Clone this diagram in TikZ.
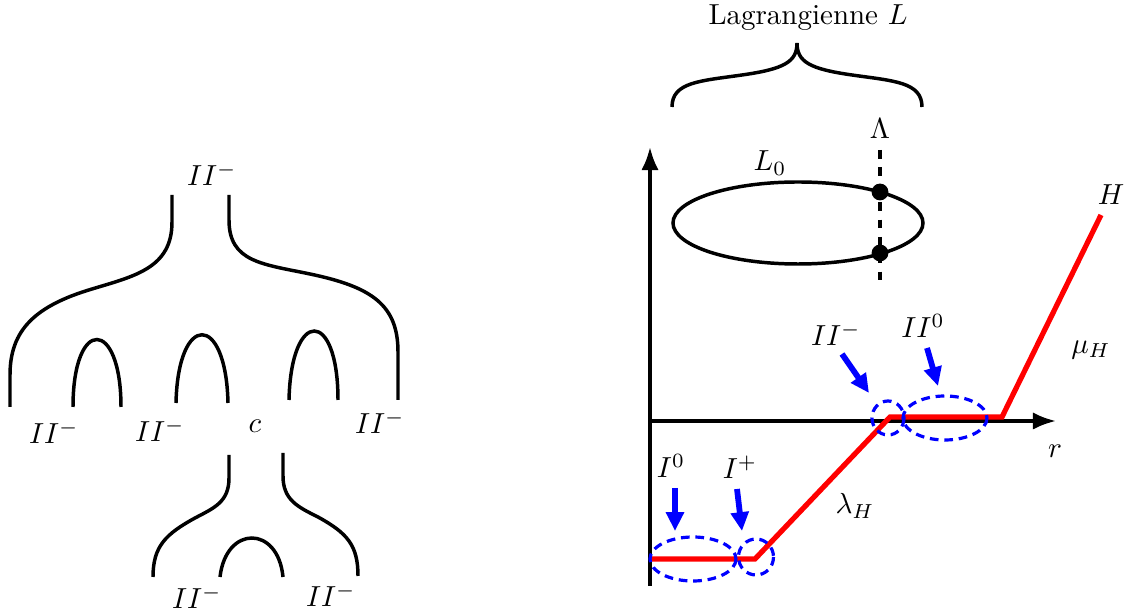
\documentclass[tikz,border=0pt]{standalone}
\usetikzlibrary{arrows.meta}
\begin{document}
\begin{tikzpicture}[x=0.345pt,y=-0.345pt,
  curve/.style={line width=1.2pt,black},
  axis/.style={line width=1.2pt,-{Latex[length=8pt,width=6pt]}},
  redline/.style={line width=1.8pt,red,line join=miter},
  zone/.style={blue,line width=1.1pt,dash pattern=on 3pt off 2pt},
  bluearrow/.style={blue,line width=2pt,-{Triangle[length=6.5pt,width=6pt]}},
  lab/.style={inner sep=1pt}]
\useasboundingbox (0,0) rectangle (1131,615);

% ---------- left diagram ----------
\node[lab] (top) at (212,174) {$II^-$};
\draw[curve] (172,195) -- (172,222) .. controls (172,268) and (135,276) .. (92,289)
  .. controls (35,306) and (10,330) .. (10,375) -- (10,407);
\draw[curve] (229,195) -- (229,220) .. controls (229,262) and (262,264) .. (310,274)
  .. controls (372,287) and (398,305) .. (398,352) -- (398,400);
\draw[curve] (73,407) .. controls (73,316) and (121,318) .. (121,407);
\draw[curve] (176,403) .. controls (178,312) and (226,312) .. (228,403);
\draw[curve] (289,400) .. controls (291,308) and (338,308) .. (338,400);
\node[lab] (l1) at (54,432) {$II^-$};
\node[lab] (l2) at (160,430) {$II^-$};
\node[lab] (c) at (255,426) {$c$};
\node[lab] (l3) at (380,422) {$II^-$};

\draw[curve] (229,455) -- (229,478) .. controls (229,502) and (214,508) .. (195,518)
  .. controls (166,534) and (153,546) .. (153,577);
\draw[curve] (283,453) -- (283,476) .. controls (283,500) and (298,507) .. (318,517)
  .. controls (347,533) and (358,545) .. (358,576);
\draw[curve] (220,577) .. controls (226,525) and (278,525) .. (283,577);
\node[lab] (b1) at (197,597) {$II^-$};
\node[lab] (b2) at (331,595) {$II^-$};

% ---------- right diagram ----------
\coordinate (O) at (650,421);
\coordinate (ybot) at (650,586);
\coordinate (ytop) at (650,147);
\coordinate (xend) at (1056,421);
\draw[line width=1.2pt] (O) -- (ybot);
\draw[axis] (O) -- (ytop);
\draw[axis] (O) -- (xend);
\node[lab] (r) at (1055,451) {$r$};

\coordinate (p0) at (650,559);
\coordinate (p1) at (755,559);
\coordinate (p2) at (890,417);
\coordinate (p3) at (1002,417);
\coordinate (p4) at (1101,215);
\draw[redline] (p0) -- (p1) -- (p2) -- (p3) -- (p4);
\node[lab] (H) at (1111,195) {$H$};
\node[lab] (mu) at (1091,350) {$\mu_H$};
\node[lab] (lam) at (855,506) {$\lambda_H$};

\draw[zone] (693,559) ellipse [x radius=43, y radius=22];
\draw[zone] (756,557) ellipse [x radius=17.5, y radius=18];
\draw[zone] (888,418) ellipse [x radius=16, y radius=17];
\draw[zone] (945,418) ellipse [x radius=42, y radius=22];

\node[lab] (I0) at (671,466) {$I^0$};
\node[lab] (Ip) at (740,467) {$I^+$};
\node[lab] (IIm) at (836,334) {$II^-$};
\node[lab] (II0) at (923,326) {$II^0$};
\coordinate (a1s) at (675,488); \coordinate (a1e) at (675,531);
\coordinate (a2s) at (737,489); \coordinate (a2e) at (742,531);
\coordinate (a3s) at (842,354); \coordinate (a3e) at (869,393);
\coordinate (a4s) at (927,348); \coordinate (a4e) at (938,386);
\draw[bluearrow] (a1s) -- (a1e);
\draw[bluearrow] (a2s) -- (a2e);
\draw[bluearrow] (a3s) -- (a3e);
\draw[bluearrow] (a4s) -- (a4e);

% Lagrangian
\draw[curve] (798,223) ellipse [x radius=125, y radius=41];
\node[lab] (L0) at (770,163) {$L_0$};
\coordinate (lt) at (880,150);
\coordinate (lb) at (880,283);
\draw[line width=1.1pt,dashed] (lt) -- (lb);
\node[lab] (Lam) at (880,129) {$\Lambda$};
\fill (880,192) circle [radius=2.9pt];
\fill (880,253) circle [radius=2.9pt];

\draw[curve] (672,107) .. controls (672,82) and (700,81) .. (742,75)
  .. controls (784,69) and (797,62) .. (797,43)
  .. controls (797,62) and (810,69) .. (852,75)
  .. controls (894,81) and (922,82) .. (922,107);
\node[lab] (Lag) at (808,18) {Lagrangienne $L$};
\end{tikzpicture}
\end{document}
